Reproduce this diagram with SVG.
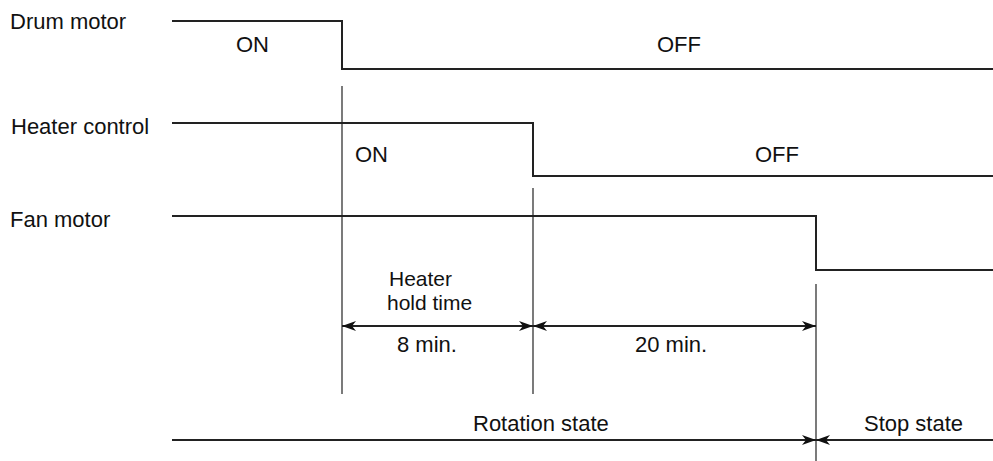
<svg xmlns="http://www.w3.org/2000/svg" width="993" height="461" viewBox="0 0 993 461">
<style>
text{font-family:"Liberation Sans",Arial,sans-serif;font-size:22px;fill:#111}
.sm{font-size:21px}
.sig{fill:none;stroke:#222;stroke-width:2}
.guide{stroke:#222;stroke-width:1.2}
.dim{stroke:#222;stroke-width:1.8;fill:none}
</style>
<defs>
<marker id="arr" viewBox="-15 -6 16 12" refX="0" refY="0" markerWidth="16" markerHeight="12" markerUnits="userSpaceOnUse" orient="auto-start-reverse">
<path d="M0,0 L-14,-5 L-10,0 L-14,5 Z" fill="#111"/>
</marker>
</defs>
<g id="drum-motor">
<text x="10" y="29">Drum motor</text>
<polyline class="sig" points="172,21 342,21 342,69 993,69"/>
<text x="236" y="52">ON</text>
<text x="657" y="52">OFF</text>
</g>
<g id="heater-control">
<text x="11" y="134">Heater control</text>
<polyline class="sig" points="172,123 533,123 533,176 993,176"/>
<text x="355" y="162">ON</text>
<text x="755" y="162">OFF</text>
</g>
<g id="fan-motor">
<text x="10" y="227">Fan motor</text>
<polyline class="sig" points="172,216 816,216 816,270 993,270"/>
</g>
<g id="labels">
<text class="sm" x="389" y="286">Heater</text>
<text class="sm" x="387" y="310">hold time</text>
<text x="397" y="352">8 min.</text>
<text x="635" y="352">20 min.</text>
<text x="473" y="431">Rotation state</text>
<text x="864" y="431">Stop state</text>
</g>
<g id="connectors">
<line class="guide" x1="342" y1="86" x2="342" y2="394"/>
<line class="guide" x1="533" y1="188" x2="533" y2="394"/>
<line class="guide" x1="816" y1="284" x2="816" y2="461"/>
<line class="dim" x1="342" y1="326" x2="533" y2="326" marker-start="url(#arr)" marker-end="url(#arr)"/>
<line class="dim" x1="533" y1="326" x2="816" y2="326" marker-start="url(#arr)" marker-end="url(#arr)"/>
<line class="dim" x1="172" y1="440" x2="816" y2="440" marker-end="url(#arr)"/>
<line class="dim" x1="993" y1="440" x2="816" y2="440" marker-end="url(#arr)"/>
</g>
</svg>
